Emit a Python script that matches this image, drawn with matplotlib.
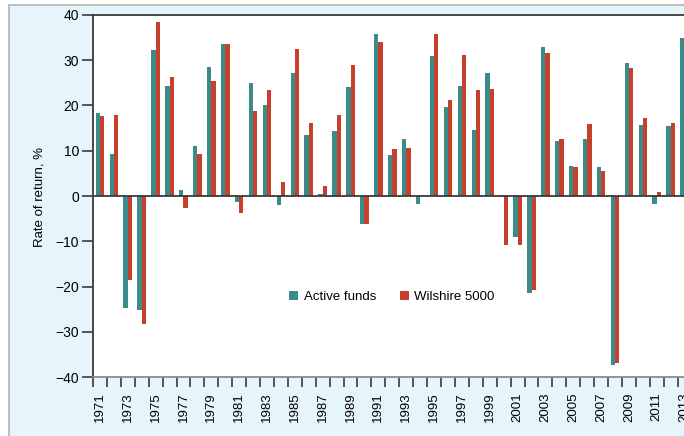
import matplotlib
matplotlib.use('Agg')
import matplotlib.pyplot as plt
from matplotlib.patches import Rectangle
import numpy as np

plt.rcParams['font.family'] = ['Liberation Sans Narrow', 'Liberation Sans', 'DejaVu Sans']

years = list(range(1971, 2014))
active_funds = [18.4, 9.2, -24.8, -25.3, 32.2, 24.4, 1.3, 11.0, 28.6, 33.5,
                -1.4, 25.0, 20.1, -2.0, 27.1, 13.4, 0.5, 14.4, 24.0, -6.2,
                35.7, 9.0, 12.5, -1.7, 30.9, 19.6, 24.4, 14.5, 27.1, -0.2,
                -9.1, -21.5, 32.9, 12.2, 6.7, 12.5, 6.3, -37.3, 29.5, 15.8,
                -1.8, 15.5, 35.0]
wilshire_5000 = [17.7, 18.0, -18.5, -28.3, 38.4, 26.4, -2.6, 9.2, 25.4, 33.7,
                 -3.8, 18.7, 23.4, 3.0, 32.4, 16.1, 2.1, 17.8, 29.0, -6.2,
                 34.1, 10.4, 10.7, -0.1, 35.9, 21.2, 31.2, 23.4, 23.6, -10.8,
                 -10.8, -20.8, 31.6, 12.5, 6.5, 15.9, 5.5, -37.0, 28.2, 17.2,
                 0.9, 16.1, 33.1]
label_years = list(range(1971, 2014, 2))

teal = '#3b8b89'
red = '#c7402b'
dark = '#3a3a3a'

W, H = 684, 436
fig = plt.figure(figsize=(W / 100, H / 100), dpi=100)
fig.patch.set_facecolor('white')

# light blue panel behind the chart
panel = Rectangle((9 / W, -0.05), 1.2, (H - 4.5) / H + 0.05,
                  transform=fig.transFigure, facecolor='#e6f4fc',
                  edgecolor='#b4b4b4', linewidth=1.2, zorder=-5)
fig.patches.append(panel)

# axes runs past the right edge of the picture, like the cropped original
ax = fig.add_axes([93 / W, (H - 377) / H, (691.6 - 93) / W, (377 - 15) / H])
ax.set_zorder(2)
ax.set_facecolor('white')

x = np.array(years)
bw = 0.31
ax.bar(x - bw / 2, active_funds, width=bw, color=teal, label='Active funds', zorder=2)
ax.bar(x + bw / 2, wilshire_5000, width=bw, color=red, label='Wilshire 5000', zorder=2)

ax.axhline(0, color=dark, linewidth=1.3, zorder=3)
ax.set_xlim(1970.5, 2013.5)
ax.set_ylim(-40, 40)

ax.set_yticks(range(-40, 41, 10))
ax.set_yticklabels([str(v).replace('-', '\u2212') for v in range(-40, 41, 10)], fontsize=10)
ax.tick_params(axis='y', length=8, width=1.2, color=dark, pad=2)

ax.set_xticks(np.arange(1970.5, 2014, 1))
ax.set_xticklabels([])
ax.tick_params(axis='x', which='major', length=7, width=1.2, color=dark)
ax.set_xticks(label_years, minor=True)
ax.set_xticklabels([str(y) for y in label_years], minor=True, rotation=90, fontsize=9.5)
ax.tick_params(axis='x', which='minor', length=0, pad=11)

for s in ['left', 'top']:
    ax.spines[s].set_color(dark)
    ax.spines[s].set_linewidth(1.3)
ax.spines['bottom'].set_color('#8a8a8a')
ax.spines['bottom'].set_linewidth(1.3)
ax.spines['right'].set_visible(False)

fig.text(40 / W, 1 - 197 / H, 'Rate of return, %', rotation=90, fontsize=9.5,
         ha='center', va='center')

ax.legend(loc='center', bbox_to_anchor=(392 / W, 1 - 297 / H),
          bbox_transform=fig.transFigure, ncol=2, frameon=False, fontsize=9.5,
          handlelength=0.7, handleheight=0.7, handletextpad=0.4, columnspacing=1.8)

fig.savefig('out.png', dpi=100)
